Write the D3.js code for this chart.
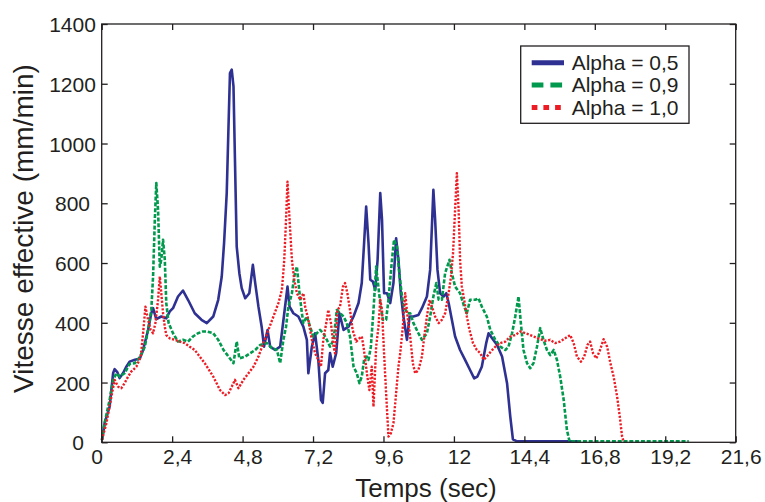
<!DOCTYPE html>
<html><head><meta charset="utf-8">
<script src="https://cdn.jsdelivr.net/npm/d3@7"></script>
<style>
body{margin:0;background:#fff}
svg{display:block}
text{font-family:"Liberation Sans",Arial,Helvetica,sans-serif;fill:#231f20}
</style>
</head><body>
<svg id="c" width="765" height="502"></svg>
<script>
// ---------- data ----------
const xTicks = [0, 2.4, 4.8, 7.2, 9.6, 12, 14.4, 16.8, 19.2, 21.6];
const xTickLabels = ["0", "2,4", "4,8", "7,2", "9,6", "12", "14,4", "16,8", "19,2", "21,6"];
const yTicks = [0, 200, 400, 600, 800, 1000, 1200, 1400];
const seriesNames = ["Alpha = 0,5", "Alpha = 0,9", "Alpha = 1,0"];

// time (sec), speed (mm/min)
const alpha05 = [[0.01,8],[0.10,64],[0.27,119],[0.39,232],[0.44,245],[0.53,235],[0.61,215],[0.73,232],[0.84,253],[0.95,270],[1.13,276],[1.30,280],[1.41,309],[1.58,376],[1.69,432],[1.75,449],[1.86,412],[2.03,421],[2.20,415],[2.32,438],[2.43,449],[2.60,488],[2.77,508],[2.94,477],[3.17,432],[3.40,410],[3.58,399],[3.80,421],[3.97,477],[4.09,555],[4.17,668],[4.26,835],[4.32,1057],[4.37,1236],[4.43,1247],[4.49,1191],[4.54,946],[4.60,655],[4.69,566],[4.77,516],[4.89,482],[5.03,499],[5.15,594],[5.23,533],[5.34,454],[5.45,387],[5.53,320],[5.65,376],[5.74,320],[5.91,309],[6.08,320],[6.22,432],[6.33,521],[6.40,454],[6.53,432],[6.70,421],[6.87,387],[6.99,343],[7.04,231],[7.16,320],[7.27,365],[7.38,276],[7.47,142],[7.53,132],[7.61,231],[7.72,242],[7.78,299],[7.87,253],[7.99,299],[8.10,432],[8.24,376],[8.41,387],[8.58,421],[8.75,466],[8.86,533],[8.94,667],[9.01,789],[9.09,667],[9.15,544],[9.24,538],[9.32,510],[9.40,611],[9.49,834],[9.55,745],[9.62,499],[9.72,499],[9.83,466],[9.94,533],[10.03,683],[10.11,611],[10.19,499],[10.28,421],[10.40,343],[10.49,421],[10.62,421],[10.79,426],[10.91,449],[11.08,488],[11.19,577],[11.25,722],[11.30,845],[11.36,745],[11.44,577],[11.53,499],[11.65,488],[11.74,499],[11.82,466],[11.93,410],[12.04,354],[12.21,309],[12.38,276],[12.55,242],[12.69,214],[12.80,220],[12.95,253],[13.10,332],[13.18,365],[13.30,348],[13.47,326],[13.64,287],[13.81,198],[13.92,86],[14.01,10],[14.15,3],[16.3,3]];

const alpha09 = [[0.01,8],[0.10,65],[0.27,142],[0.39,209],[0.50,231],[0.61,220],[0.78,231],[0.95,262],[1.13,265],[1.30,285],[1.47,320],[1.58,376],[1.69,443],[1.75,555],[1.81,745],[1.86,868],[1.92,778],[1.98,588],[2.03,611],[2.09,678],[2.15,611],[2.20,466],[2.28,399],[2.43,365],[2.60,337],[2.77,343],[2.94,337],[3.11,354],[3.28,365],[3.45,371],[3.58,371],[3.80,365],[3.97,343],[4.15,309],[4.32,287],[4.49,265],[4.60,337],[4.69,281],[4.89,287],[5.06,298],[5.23,309],[5.40,326],[5.63,332],[5.80,315],[5.97,309],[6.08,265],[6.19,343],[6.28,387],[6.36,454],[6.48,499],[6.56,555],[6.65,588],[6.74,499],[6.82,432],[6.87,399],[6.99,421],[7.10,387],[7.21,354],[7.33,365],[7.44,376],[7.55,365],[7.67,343],[7.78,320],[7.90,343],[8.01,443],[8.12,432],[8.24,421],[8.35,399],[8.46,354],[8.58,253],[8.69,231],[8.78,198],[8.86,220],[8.94,276],[9.03,287],[9.09,276],[9.17,320],[9.26,443],[9.35,588],[9.40,544],[9.49,466],[9.58,410],[9.69,410],[9.77,477],[9.89,611],[9.96,678],[10.06,655],[10.15,555],[10.26,466],[10.40,432],[10.51,432],[10.62,399],[10.79,365],[10.91,343],[11.08,365],[11.19,421],[11.30,488],[11.40,533],[11.48,477],[11.59,477],[11.70,566],[11.85,611],[11.93,566],[12.04,521],[12.21,499],[12.35,454],[12.44,432],[12.55,477],[12.73,477],[12.84,482],[12.95,454],[13.12,421],[13.24,376],[13.41,343],[13.58,320],[13.75,309],[13.86,320],[13.98,365],[14.09,421],[14.20,488],[14.28,399],[14.37,309],[14.49,265],[14.60,248],[14.71,265],[14.83,320],[14.94,382],[15.05,343],[15.17,309],[15.28,292],[15.40,309],[15.51,276],[15.62,220],[15.74,142],[15.85,41],[15.94,3],[20.0,3]];

const alpha10 = [[0.01,8],[0.16,64],[0.31,142],[0.44,209],[0.56,186],[0.67,181],[0.78,198],[0.90,220],[1.01,237],[1.18,253],[1.33,287],[1.41,365],[1.49,454],[1.58,410],[1.67,376],[1.75,365],[1.83,399],[1.92,477],[1.98,555],[2.03,499],[2.09,432],[2.15,387],[2.20,359],[2.32,348],[2.49,343],[2.66,337],[2.83,332],[3.00,320],[3.17,309],[3.34,287],[3.51,265],[3.62,248],[3.80,220],[4.03,175],[4.20,158],[4.32,164],[4.43,186],[4.54,209],[4.66,181],[4.83,209],[5.00,231],[5.17,253],[5.34,287],[5.51,332],[5.68,376],[5.85,421],[6.02,466],[6.14,510],[6.22,611],[6.28,745],[6.33,872],[6.40,745],[6.48,611],[6.56,544],[6.65,499],[6.76,477],[6.87,499],[6.93,454],[7.04,410],[7.16,343],[7.27,298],[7.38,276],[7.47,253],[7.55,343],[7.67,410],[7.72,443],[7.81,399],[7.90,320],[7.95,298],[8.03,443],[8.12,454],[8.22,521],[8.29,533],[8.37,499],[8.46,443],[8.55,376],[8.67,337],[8.78,348],[8.86,354],[8.92,320],[8.98,276],[9.05,220],[9.12,175],[9.20,253],[9.26,119],[9.35,320],[9.43,387],[9.49,477],[9.55,443],[9.62,298],[9.69,164],[9.77,19],[9.85,30],[9.94,64],[10.03,164],[10.11,253],[10.17,298],[10.26,387],[10.34,499],[10.42,421],[10.51,354],[10.60,265],[10.68,231],[10.79,242],[10.91,287],[10.99,354],[11.08,421],[11.17,477],[11.25,454],[11.36,421],[11.48,399],[11.59,410],[11.70,432],[11.82,499],[11.90,555],[11.97,633],[12.04,778],[12.10,901],[12.16,778],[12.21,611],[12.27,521],[12.35,477],[12.44,421],[12.53,376],[12.65,332],[12.78,309],[12.90,298],[13.01,276],[13.12,287],[13.26,304],[13.41,320],[13.58,332],[13.75,337],[13.92,354],[14.09,359],[14.26,371],[14.43,365],[14.60,359],[14.77,352],[14.94,345],[15.11,340],[15.28,343],[15.45,332],[15.62,337],[15.79,348],[15.96,359],[16.08,332],[16.19,287],[16.33,270],[16.44,287],[16.55,326],[16.64,337],[16.74,298],[16.85,281],[16.96,304],[17.10,345],[17.22,320],[17.33,265],[17.44,220],[17.56,153],[17.65,86],[17.73,19],[17.78,3]];

// ---------- drawing ----------
const svg = d3.select("#c");
const x = d3.scaleLinear().domain([0, 21.6]).range([101.7, 735.7]);
const y = d3.scaleLinear().domain([0, 1400]).range([442.3, 24]);
const ink = "#231f20";

const styles = [
  {color: "#2e3192", width: 2.6, dash: null, legDash: null},
  {color: "#00994d", width: 2.6, dash: "4,1.8", legDash: "11.7,7"},
  {color: "#ed1c24", width: 2.4, dash: "2.2,1.6", legDash: "5.7,6"}
];
const seriesData = [alpha05, alpha09, alpha10];

const line = d3.line().x(d => x(d[0])).y(d => y(d[1]));

seriesData.forEach((data, i) => {
  const s = styles[i];
  const p = svg.append("path").datum(data)
    .attr("d", line)
    .attr("fill", "none")
    .attr("stroke", s.color)
    .attr("stroke-width", s.width)
    .attr("stroke-linejoin", "round");
  if (s.dash) p.attr("stroke-dasharray", s.dash);
});

// axes (inward ticks on all four sides)
function styleAxis(g) {
  g.select(".domain").remove();
  g.selectAll(".tick line").attr("stroke", ink).attr("stroke-width", 1.3);
  g.selectAll("text").attr("font-family", null).style("font-size", "21px").attr("fill", ink);
  g.attr("font-family", null).attr("font-size", null);
}

const gB = svg.append("g").attr("transform", `translate(0,${y(0)})`)
  .call(d3.axisBottom(x).tickValues(xTicks).tickSizeInner(-6).tickSizeOuter(0)
    .tickFormat((d, i) => xTickLabels[i]));
styleAxis(gB);
gB.selectAll("text").attr("y", 21.7).attr("dy", 0).attr("dx", d => d === 0 ? -5 : 5);

const gT = svg.append("g").attr("transform", `translate(0,${y(1400)})`)
  .call(d3.axisTop(x).tickValues(xTicks).tickSizeInner(-6).tickSizeOuter(0).tickFormat(""));
styleAxis(gT);

const gL = svg.append("g").attr("transform", `translate(${x(0)},0)`)
  .call(d3.axisLeft(y).tickValues(yTicks).tickSizeInner(-6).tickSizeOuter(0).tickFormat(d3.format("d")));
styleAxis(gL);
gL.selectAll("text").attr("x", 72.5 - x(0)).attr("text-anchor", "middle")
  .attr("dy", 7.5).attr("dx", d => d === 0 ? 5.5 : 0);

const gR = svg.append("g").attr("transform", `translate(${x(21.6)},0)`)
  .call(d3.axisRight(y).tickValues(yTicks).tickSizeInner(-6).tickSizeOuter(0).tickFormat(""));
styleAxis(gR);

// frame
svg.append("rect")
  .attr("x", x(0)).attr("y", y(1400))
  .attr("width", x(21.6) - x(0)).attr("height", y(0) - y(1400))
  .attr("fill", "none").attr("stroke", ink).attr("stroke-width", 1.3);

// axis titles
svg.append("text").attr("x", 426).attr("y", 497).attr("text-anchor", "middle")
  .style("font-size", "26px").text("Temps (sec)");
svg.append("text").attr("transform", "translate(33,228.5) rotate(-90)")
  .attr("text-anchor", "middle").style("font-size", "28px").text("Vitesse effective (mm/min)");

// legend
const leg = svg.append("g");
leg.append("rect").attr("x", 520.7).attr("y", 46).attr("width", 168.3).attr("height", 77.3)
  .attr("fill", "#fff").attr("stroke", ink).attr("stroke-width", 1.3);
seriesNames.forEach((name, i) => {
  const cy = 62.8 + i * 22.3;
  const s = styles[i];
  const l = leg.append("line").attr("x1", 531.7).attr("x2", 564).attr("y1", cy).attr("y2", cy)
    .attr("stroke", s.color).attr("stroke-width", 5);
  if (s.legDash) l.attr("stroke-dasharray", s.legDash);
  leg.append("text").attr("x", 571.7).attr("y", cy + 7.2).style("font-size", "21px").text(name);
});
</script>
</body></html>
